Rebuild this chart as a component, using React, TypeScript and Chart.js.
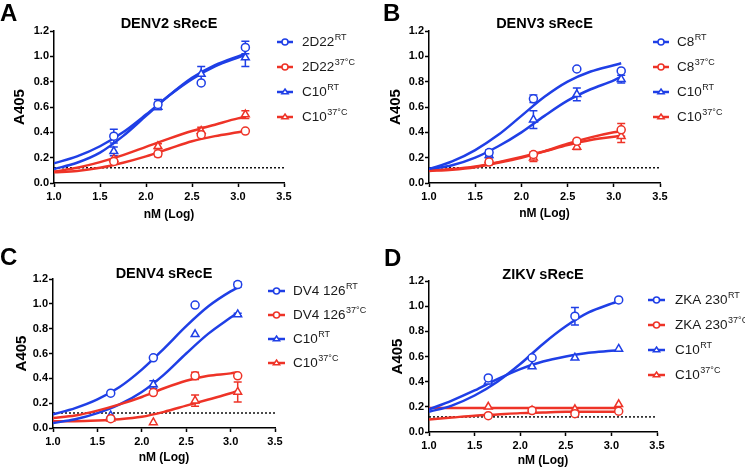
import React, { useEffect, useRef } from "react";
import { Chart, registerables } from "chart.js";

Chart.register(...registerables);

const FONT = '"Liberation Sans", Arial, Helvetica, sans-serif';
const BLUE = "#1f3fe6";
const RED = "#ee3327";

// ---------- shared axes / doses ----------
const X_DOSES = [1.65, 2.13, 2.6, 3.08];
const X_FIT = [1.0, 1.25, 1.5, 1.75, 2.0, 2.25, 2.5, 2.75, 3.0, 3.08];
const X_TICKS = [1.0, 1.5, 2.0, 2.5, 3.0, 3.5];
const Y_TICKS = [0.0, 0.2, 0.4, 0.6, 0.8, 1.0, 1.2];
const CUTOFF = 0.12;
const X_TITLE = "nM (Log)";
const Y_TITLE = "A405";

// ---------- Panel A: DENV2 sRecE ----------
const A_2D22_RT = [0.37, 0.62, 0.79, 1.07];
const A_2D22_RT_ERR = [0.055, 0.04, 0, 0.05];
const A_2D22_RT_FIT = [0.155, 0.21, 0.29, 0.4, 0.54, 0.69, 0.82, 0.92, 0.99, 1.01];
const A_2D22_37 = [0.17, 0.23, 0.38, 0.41];
const A_2D22_37_ERR = [0, 0.02, 0, 0];
const A_2D22_37_FIT = [0.085, 0.095, 0.12, 0.16, 0.21, 0.27, 0.33, 0.37, 0.4, 0.41];
const A_C10_RT = [0.25, 0.6, 0.86, 0.99];
const A_C10_RT_ERR = [0.035, 0.02, 0.06, 0.07];
const A_C10_RT_FIT = [0.11, 0.16, 0.24, 0.37, 0.53, 0.69, 0.83, 0.93, 1.0, 1.02];
const A_C10_37 = [0.19, 0.29, 0.41, 0.54];
const A_C10_37_ERR = [0, 0.02, 0.03, 0.03];
const A_C10_37_FIT = [0.09, 0.12, 0.165, 0.22, 0.285, 0.35, 0.41, 0.46, 0.51, 0.52];

// ---------- Panel B: DENV3 sRecE ----------
const B_C8_RT = [0.24, 0.665, 0.9, 0.885];
const B_C8_RT_ERR = [0.02, 0.03, 0.01, 0.01];
const B_C8_RT_FIT = [0.11, 0.17, 0.26, 0.38, 0.53, 0.68, 0.8, 0.88, 0.93, 0.945];
const B_C8_37 = [0.165, 0.225, 0.33, 0.42];
const B_C8_37_ERR = [0.02, 0.02, 0.01, 0.05];
const B_C8_37_FIT = [0.095, 0.105, 0.125, 0.16, 0.2, 0.25, 0.31, 0.36, 0.4, 0.41];
const B_C10_RT = [0.22, 0.5, 0.7, 0.82];
const B_C10_RT_ERR = [0.02, 0.07, 0.05, 0.03];
const B_C10_RT_FIT = [0.11, 0.14, 0.2, 0.29, 0.4, 0.53, 0.65, 0.74, 0.81, 0.84];
const B_C10_37 = [0.18, 0.2, 0.285, 0.37];
const B_C10_37_ERR = [0, 0.03, 0.02, 0.05];
const B_C10_37_FIT = [0.1, 0.11, 0.13, 0.165, 0.205, 0.25, 0.3, 0.34, 0.365, 0.375];

// ---------- Panel C: DENV4 sRecE ----------
const C_DV4_RT = [0.28, 0.565, 0.99, 1.155];
const C_DV4_RT_ERR = [0, 0, 0, 0.02];
const C_DV4_RT_FIT = [0.11, 0.16, 0.23, 0.33, 0.47, 0.64, 0.82, 0.98, 1.1, 1.13];
const C_DV4_37 = [0.075, 0.285, 0.42, 0.42];
const C_DV4_37_ERR = [0, 0, 0.03, 0];
const C_DV4_37_FIT = [0.08, 0.1, 0.14, 0.19, 0.25, 0.32, 0.38, 0.42, 0.44, 0.45];
const C_C10_RT = [0.1, 0.35, 0.755, 0.915];
const C_C10_RT_ERR = [0, 0.03, 0, 0.01];
const C_C10_RT_FIT = [0.04, 0.07, 0.12, 0.19, 0.29, 0.43, 0.6, 0.76, 0.89, 0.93];
const C_C10_37 = [0.075, 0.045, 0.22, 0.29];
const C_C10_37_ERR = [0, 0, 0.045, 0.08];
const C_C10_37_FIT = [0.055, 0.055, 0.06, 0.07, 0.09, 0.13, 0.18, 0.23, 0.28, 0.3];

// ---------- Panel D: ZIKV sRecE ----------
const D_ZKA_RT = [0.43, 0.59, 0.92, 1.05];
const D_ZKA_RT_ERR = [0, 0, 0.07, 0];
const D_ZKA_RT_FIT = [0.16, 0.21, 0.29, 0.4, 0.54, 0.7, 0.84, 0.95, 1.02, 1.04];
const D_ZKA_37 = [0.13, 0.17, 0.145, 0.165];
const D_ZKA_37_ERR = [0, 0, 0, 0];
const D_ZKA_37_FIT = [0.1, 0.115, 0.13, 0.14, 0.15, 0.155, 0.16, 0.16, 0.16, 0.16];
const D_C10_RT = [0.4, 0.52, 0.59, 0.66];
const D_C10_RT_ERR = [0, 0, 0, 0];
const D_C10_RT_FIT = [0.18, 0.25, 0.33, 0.42, 0.5, 0.56, 0.6, 0.63, 0.645, 0.65];
const D_C10_37 = [0.2, 0.17, 0.18, 0.22];
const D_C10_37_ERR = [0, 0, 0, 0];
const D_C10_37_FIT = [0.19, 0.19, 0.19, 0.19, 0.19, 0.19, 0.19, 0.19, 0.19, 0.19];

type Marker = "circle" | "triangle";
type Series = {
  base: string;
  sup: string;
  color: string;
  marker: Marker;
  pts: number[];
  err: number[];
  fit: number[];
};
type PanelCfg = {
  letter: string;
  title: string;
  series: Series[];
  canvas: { left: number; top: number; width: number; height: number };
  plot: { l: number; t: number; r: number; b: number };
  yTitleX: number;
  xTitleOff: number;
  titleGap: number;
  letterPos: { x: number; y: number };
  legend: { x0: number; x1: number; tx: number; dy: number; step: number };
};

const mk = (base: string, sup: string, color: string, marker: Marker, pts: number[], err: number[], fit: number[]): Series => ({
  base, sup, color, marker, pts, err, fit,
});

const PANELS: PanelCfg[] = [
  {
    letter: "A",
    title: "DENV2 sRecE",
    series: [
      mk("2D22", "RT", BLUE, "circle", A_2D22_RT, A_2D22_RT_ERR, A_2D22_RT_FIT),
      mk("2D22", "37°C", RED, "circle", A_2D22_37, A_2D22_37_ERR, A_2D22_37_FIT),
      mk("C10", "RT", BLUE, "triangle", A_C10_RT, A_C10_RT_ERR, A_C10_RT_FIT),
      mk("C10", "37°C", RED, "triangle", A_C10_37, A_C10_37_ERR, A_C10_37_FIT),
    ],
    canvas: { left: 0, top: 0, width: 372, height: 234 },
    plot: { l: 54, t: 31, r: 284, b: 183 },
    yTitleX: 20,
    xTitleOff: 32,
    titleGap: 7,
    letterPos: { x: 0, y: 21 },
    legend: { x0: -7, x1: 9, tx: 18, dy: 11, step: 25 },
  },
  {
    letter: "B",
    title: "DENV3 sRecE",
    series: [
      mk("C8", "RT", BLUE, "circle", B_C8_RT, B_C8_RT_ERR, B_C8_RT_FIT),
      mk("C8", "37°C", RED, "circle", B_C8_37, B_C8_37_ERR, B_C8_37_FIT),
      mk("C10", "RT", BLUE, "triangle", B_C10_RT, B_C10_RT_ERR, B_C10_RT_FIT),
      mk("C10", "37°C", RED, "triangle", B_C10_37, B_C10_37_ERR, B_C10_37_FIT),
    ],
    canvas: { left: 372, top: 0, width: 373, height: 234 },
    plot: { l: 429, t: 31, r: 660, b: 183 },
    yTitleX: 396,
    xTitleOff: 30.5,
    titleGap: 7,
    letterPos: { x: 383, y: 21 },
    legend: { x0: -7, x1: 9, tx: 17, dy: 11, step: 25 },
  },
  {
    letter: "C",
    title: "DENV4 sRecE",
    series: [
      mk("DV4 126", "RT", BLUE, "circle", C_DV4_RT, C_DV4_RT_ERR, C_DV4_RT_FIT),
      mk("DV4 126", "37°C", RED, "circle", C_DV4_37, C_DV4_37_ERR, C_DV4_37_FIT),
      mk("C10", "RT", BLUE, "triangle", C_C10_RT, C_C10_RT_ERR, C_C10_RT_FIT),
      mk("C10", "37°C", RED, "triangle", C_C10_37, C_C10_37_ERR, C_C10_37_FIT),
    ],
    canvas: { left: 0, top: 234, width: 372, height: 235 },
    plot: { l: 53, t: 279, r: 275, b: 428 },
    yTitleX: 22,
    xTitleOff: 30,
    titleGap: 5,
    letterPos: { x: 0, y: 265 },
    legend: { x0: -7, x1: 10, tx: 18, dy: 12, step: 24 },
  },
  {
    letter: "D",
    title: "ZIKV sRecE",
    series: [
      mk("ZKA 230", "RT", BLUE, "circle", D_ZKA_RT, D_ZKA_RT_ERR, D_ZKA_RT_FIT),
      mk("ZKA 230", "37°C", RED, "circle", D_ZKA_37, D_ZKA_37_ERR, D_ZKA_37_FIT),
      mk("C10", "RT", BLUE, "triangle", D_C10_RT, D_C10_RT_ERR, D_C10_RT_FIT),
      mk("C10", "37°C", RED, "triangle", D_C10_37, D_C10_37_ERR, D_C10_37_FIT),
    ],
    canvas: { left: 372, top: 234, width: 373, height: 235 },
    plot: { l: 429, t: 281, r: 657, b: 432 },
    yTitleX: 398,
    xTitleOff: 29,
    titleGap: 6,
    letterPos: { x: 384, y: 266 },
    legend: { x0: -9, x1: 8, tx: 18, dy: 19, step: 25 },
  },
];

function drawMarker(ctx: CanvasRenderingContext2D, m: Marker, x: number, y: number, r: number) {
  ctx.beginPath();
  if (m === "circle") {
    ctx.arc(x, y, r, 0, Math.PI * 2);
  } else {
    const h = r * 1.6;
    ctx.moveTo(x, y - h * 0.62);
    ctx.lineTo(x + r * 1.05, y + h * 0.38);
    ctx.lineTo(x - r * 1.05, y + h * 0.38);
    ctx.closePath();
  }
  ctx.fill();
  ctx.stroke();
}

function makePlugin(p: PanelCfg) {
  return {
    id: "panelDecor" + p.letter,
    beforeDatasetsDraw(chart: any) {
      const ctx: CanvasRenderingContext2D = chart.ctx;
      const xs = chart.scales.x;
      const ys = chart.scales.y;
      ctx.save();
      p.series.forEach((s) => {
        ctx.strokeStyle = s.color;
        ctx.lineWidth = 1.5;
        s.pts.forEach((v, i) => {
          const e = s.err[i];
          if (!e) return;
          const px = xs.getPixelForValue(X_DOSES[i]);
          const y1 = ys.getPixelForValue(v + e);
          const y2 = ys.getPixelForValue(v - e);
          ctx.beginPath();
          ctx.moveTo(px, y1);
          ctx.lineTo(px, y2);
          ctx.moveTo(px - 4, y1);
          ctx.lineTo(px + 4, y1);
          ctx.moveTo(px - 4, y2);
          ctx.lineTo(px + 4, y2);
          ctx.stroke();
        });
      });
      ctx.restore();
    },
    afterDraw(chart: any) {
      const ctx: CanvasRenderingContext2D = chart.ctx;
      const a = chart.chartArea;
      const cl = p.canvas.left;
      const ct = p.canvas.top;
      ctx.save();
      ctx.fillStyle = "#000";
      ctx.textAlign = "left";
      ctx.textBaseline = "alphabetic";
      ctx.font = `bold 24px ${FONT}`;
      ctx.fillText(p.letter, p.letterPos.x - cl, p.letterPos.y - ct);

      ctx.font = `bold 14.5px ${FONT}`;
      ctx.textAlign = "center";
      ctx.textBaseline = "middle";
      ctx.fillText(p.title, (a.left + a.right) / 2, a.top - p.titleGap);

      p.series.forEach((s, i) => {
        const y = a.top + p.legend.dy + i * p.legend.step;
        const x0 = a.right + p.legend.x0;
        const x1 = a.right + p.legend.x1;
        ctx.strokeStyle = s.color;
        ctx.lineWidth = 2.5;
        ctx.beginPath();
        ctx.moveTo(x0, y);
        ctx.lineTo(x1, y);
        ctx.stroke();
        ctx.fillStyle = "#fff";
        ctx.lineWidth = 1.5;
        drawMarker(ctx, s.marker, (x0 + x1) / 2, y, 3);
        ctx.fillStyle = "#1a1a1a";
        ctx.textAlign = "left";
        ctx.textBaseline = "middle";
        ctx.font = `13.5px ${FONT}`;
        const tx = a.right + p.legend.tx;
        ctx.fillText(s.base, tx, y + 0.5);
        const w = ctx.measureText(s.base).width;
        ctx.font = `9px ${FONT}`;
        ctx.fillText(s.sup, tx + w + 0.5, y - 4);
      });
      ctx.restore();
    },
  };
}

function buildConfig(p: PanelCfg): any {
  const pointSets = p.series.map((s) => ({
    data: s.pts.map((v, i) => ({ x: X_DOSES[i], y: v })),
    showLine: false,
    pointStyle: s.marker,
    pointRadius: s.marker === "circle" ? 4 : 4.5,
    pointBorderWidth: 1.5,
    pointBackgroundColor: "#fff",
    pointBorderColor: s.color,
    borderColor: s.color,
  }));
  const fitSets = p.series.map((s) => ({
    data: s.fit.map((v, i) => ({ x: X_FIT[i], y: v })),
    showLine: true,
    pointRadius: 0,
    borderColor: s.color,
    borderWidth: 2.5,
    cubicInterpolationMode: "monotone",
    fill: false,
  }));
  const cutoffSet = {
    data: [
      { x: X_TICKS[0], y: CUTOFF },
      { x: X_TICKS[X_TICKS.length - 1], y: CUTOFF },
    ],
    showLine: true,
    pointRadius: 0,
    borderColor: "#111",
    borderWidth: 1.5,
    borderDash: [2, 2],
    fill: false,
  };

  const yAxisW = p.plot.l - p.canvas.left;
  const xAxisH = p.xTitleOff + 7.2;
  const padTop = p.plot.t - p.canvas.top;
  const padRight = p.canvas.left + p.canvas.width - p.plot.r;
  const padBottom = p.canvas.height - (p.plot.b - p.canvas.top) - xAxisH;

  const tickFont = { family: FONT, size: 11, weight: "bold" as const };

  return {
    type: "scatter",
    data: { datasets: [...pointSets, ...fitSets, cutoffSet] },
    options: {
      responsive: false,
      maintainAspectRatio: false,
      animation: false,
      events: [],
      layout: { padding: { left: 0, top: padTop, right: padRight, bottom: padBottom } },
      plugins: { legend: { display: false }, tooltip: { enabled: false }, title: { display: false } },
      scales: {
        x: {
          type: "linear",
          min: X_TICKS[0],
          max: X_TICKS[X_TICKS.length - 1],
          afterBuildTicks: (sc: any) => {
            sc.ticks = X_TICKS.map((v) => ({ value: v }));
          },
          afterFit: (sc: any) => {
            sc.height = xAxisH;
            sc.paddingLeft = 0;
            sc.paddingRight = 0;
          },
          ticks: {
            font: tickFont,
            color: "#000",
            padding: 3,
            maxRotation: 0,
            autoSkip: false,
            callback: (v: number) => Number(v).toFixed(1),
          },
          grid: { drawOnChartArea: false, drawTicks: true, tickLength: 4, tickWidth: 1.5, tickColor: "#000" },
          border: { color: "#000", width: 1.5 },
          title: {
            display: true,
            text: X_TITLE,
            color: "#000",
            font: { family: FONT, size: 12, weight: "bold" },
            padding: { top: 0, bottom: 0 },
          },
        },
        y: {
          type: "linear",
          min: Y_TICKS[0],
          max: Y_TICKS[Y_TICKS.length - 1],
          afterBuildTicks: (sc: any) => {
            sc.ticks = Y_TICKS.map((v) => ({ value: v }));
          },
          afterFit: (sc: any) => {
            sc.width = yAxisW;
            sc.paddingTop = 0;
            sc.paddingBottom = 0;
          },
          ticks: {
            font: tickFont,
            color: "#000",
            padding: 1,
            autoSkip: false,
            callback: (v: number) => Number(v).toFixed(1),
          },
          grid: { drawOnChartArea: false, drawTicks: true, tickLength: 4, tickWidth: 1.5, tickColor: "#000" },
          border: { color: "#000", width: 1.5 },
          title: {
            display: true,
            text: Y_TITLE,
            color: "#000",
            font: { family: FONT, size: 15, weight: "bold" },
            padding: { top: p.yTitleX - p.canvas.left - 9, bottom: 0 },
          },
        },
      },
    },
    plugins: [makePlugin(p)],
  };
}

function PanelChart({ p }: { p: PanelCfg }) {
  const ref = useRef<HTMLCanvasElement>(null);
  useEffect(() => {
    if (!ref.current) return;
    const chart = new Chart(ref.current, buildConfig(p));
    return () => chart.destroy();
  }, [p]);
  return (
    <canvas
      ref={ref}
      width={p.canvas.width}
      height={p.canvas.height}
      style={{
        position: "absolute",
        left: p.canvas.left,
        top: p.canvas.top,
        width: p.canvas.width,
        height: p.canvas.height,
      }}
    />
  );
}

export default function App() {
  return (
    <div
      style={{
        position: "absolute",
        left: 0,
        top: 0,
        width: 745,
        height: 469,
        background: "#fff",
        overflow: "hidden",
      }}
    >
      {PANELS.map((p) => (
        <PanelChart key={p.letter} p={p} />
      ))}
    </div>
  );
}
